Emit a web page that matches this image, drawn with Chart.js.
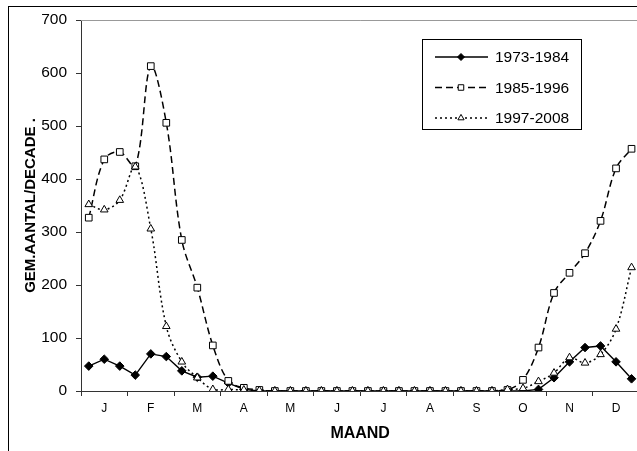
<!DOCTYPE html>
<html>
<head>
<meta charset="utf-8">
<script src="https://cdn.jsdelivr.net/npm/chart.js@4/dist/chart.umd.min.js"></script>
<style>
  body { margin: 0; overflow: hidden; background: #fff; }
  #frame { position: absolute; left: 8px; top: 6px; width: 800px; height: 800px; border: 1px solid #000; }
  #chart { position: absolute; left: 0; top: 0; }
</style>
</head>
<body>
<div id="frame"></div>
<canvas id="chart" width="645" height="451" style="width:645px;height:451px"></canvas>
<script>
// ---------- DATA ----------

const months = ["J", "F", "M", "A", "M", "J", "J", "A", "S", "O", "N", "D"];
// three decades per month
const decades = months.flatMap((m, i) => [i + "-1", i + "-2", i + "-3"]);

const yTicks = [0, 100, 200, 300, 400, 500, 600, 700];

const series1973 = [
  47, 60, 47,   30, 70, 65,   38, 26, 28,   15, 3, 0,
  0, 0, 0,      0, 0, 0,      0, 0, 0,      0, 0, 0,
  0, 0, 0,      0, 0, 3,      25, 55, 82,   85, 55, 23
];
const series1985 = [
  327, 437, 451,  424, 613, 506,  285, 195, 86,  19, 6, 2,
  0, 0, 0,        0, 0, 0,        0, 0, 0,       0, 0, 0,
  0, 0, 0,        2, 21, 82,      185, 223, 260, 321, 420, 457
];
const series1997 = [
  352, 342, 360,  423, 306, 122,  55, 25, 3,   3, 2, 1,
  0, 0, 0,        0, 0, 0,        0, 0, 0,     0, 0, 0,
  0, 0, 0,        3, 5, 18,       34, 63, 53,  69, 117, 233
];

const seriesNames = ["1973-1984", "1985-1996", "1997-2008"];

// ---------- STYLE ----------

const FONT = "'Liberation Sans', Arial, sans-serif";
const AXIS = "#333";

const styles = [
  { dash: [], point: "rectRot", radius: 4.3, fill: "#000", tension: 0 },
  { dash: [7, 4], point: "rect", radius: 4.7, fill: "#fff", tension: 0.35 },
  { dash: [2, 3], point: "triangle", radius: 4.4, fill: "#fff", tension: 0.35 }
];

function marker(ctx, type, x, y, r, fill) {
  ctx.save();
  ctx.setLineDash([]);
  ctx.lineWidth = 1;
  ctx.strokeStyle = "#000";
  ctx.fillStyle = fill;
  ctx.beginPath();
  if (type === "rectRot") {
    ctx.moveTo(x, y - r); ctx.lineTo(x + r, y); ctx.lineTo(x, y + r); ctx.lineTo(x - r, y);
  } else if (type === "rect") {
    const s = r * Math.SQRT1_2;
    ctx.rect(x - s, y - s, 2 * s, 2 * s);
  } else {
    ctx.moveTo(x, y - r);
    ctx.lineTo(x + r * 0.866, y + r * 0.5);
    ctx.lineTo(x - r * 0.866, y + r * 0.5);
  }
  ctx.closePath();
  ctx.fill();
  ctx.stroke();
  ctx.restore();
}

// gray top border of the plot area
const plotBorder = {
  id: "plotBorder",
  beforeDatasetsDraw(chart) {
    const { ctx, chartArea: a } = chart;
    ctx.save();
    ctx.strokeStyle = "#999";
    ctx.lineWidth = 1;
    ctx.beginPath();
    ctx.moveTo(a.left, a.top + 0.5);
    ctx.lineTo(a.right, a.top + 0.5);
    ctx.stroke();
    ctx.restore();
  }
};

// boxed legend with line samples
const boxLegend = {
  id: "boxLegend",
  afterDraw(chart) {
    const ctx = chart.ctx;
    const bx = 422.5, by = 39.5, bw = 159, bh = 90;
    ctx.save();
    ctx.fillStyle = "#fff";
    ctx.fillRect(bx, by, bw, bh);
    ctx.strokeStyle = "#000";
    ctx.lineWidth = 1;
    ctx.strokeRect(bx, by, bw, bh);

    chart.data.datasets.forEach((ds, i) => {
      const st = styles[i];
      const y = 57 + i * 30.5;
      ctx.save();
      ctx.strokeStyle = "#000";
      ctx.lineWidth = 1.4;
      ctx.setLineDash(st.dash);
      ctx.beginPath();
      ctx.moveTo(435, y);
      ctx.lineTo(488, y);
      ctx.stroke();
      ctx.restore();
      marker(ctx, st.point, 461, y, st.radius - 0.8, st.fill);
      ctx.fillStyle = "#000";
      ctx.font = "15.5px " + FONT;
      ctx.textBaseline = "middle";
      ctx.fillText(ds.label, 495, y + 1);
    });
    ctx.restore();
  }
};

// ---------- CHART ----------

const seriesData = [series1973, series1985, series1997];

new Chart(document.getElementById("chart"), {
  type: "line",
  data: {
    labels: decades,
    datasets: seriesData.map((data, i) => ({
      label: seriesNames[i],
      data,
      borderColor: "#000",
      borderWidth: i === 0 ? 1.4 : 1.5,
      borderDash: styles[i].dash,
      tension: styles[i].tension,
      pointStyle: styles[i].point,
      pointRadius: styles[i].radius,
      pointBackgroundColor: styles[i].fill,
      pointBorderColor: "#000",
      pointBorderWidth: 1,
      order: 3 - i
    }))
  },
  options: {
    responsive: false,
    animation: false,
    layout: { padding: { top: 20, right: 3, left: 0, bottom: 0 } },
    plugins: {
      legend: { display: false },
      tooltip: { enabled: false }
    },
    scales: {
      x: {
        type: "category",
        offset: true,
        afterFit: s => { s.height = 60; },
        border: { color: AXIS, width: 1 },
        grid: {
          offset: true,
          drawOnChartArea: false,
          tickLength: 5,
          color: c => (c.index % 3 === 0 ? AXIS : "rgba(0,0,0,0)")
        },
        ticks: {
          autoSkip: false,
          maxRotation: 0,
          padding: 5,
          color: "#000",
          font: { family: FONT, size: 12 },
          callback: (v, i) => (i % 3 === 1 ? months[Math.floor(i / 3)] : "")
        },
        title: {
          display: true,
          text: "MAAND",
          color: "#000",
          font: { family: FONT, size: 16, weight: "bold" },
          padding: { top: 0, bottom: 8 }
        }
      },
      y: {
        min: yTicks[0],
        max: yTicks[yTicks.length - 1],
        afterFit: s => { s.width = 81; },
        afterBuildTicks: s => { s.ticks = yTicks.map(v => ({ value: v })); },
        border: { color: AXIS, width: 1 },
        grid: { drawOnChartArea: false, tickLength: 5, color: AXIS },
        ticks: {
          padding: 9,
          color: "#000",
          font: { family: FONT, size: 15.5 }
        },
        title: {
          display: true,
          text: "GEM.AANTAL/DECADE .",
          color: "#000",
          font: { family: FONT, size: 15, weight: "bold" },
          padding: { top: 22, bottom: 0 }
        }
      }
    }
  },
  plugins: [plotBorder, boxLegend]
});
</script>
</body>
</html>
